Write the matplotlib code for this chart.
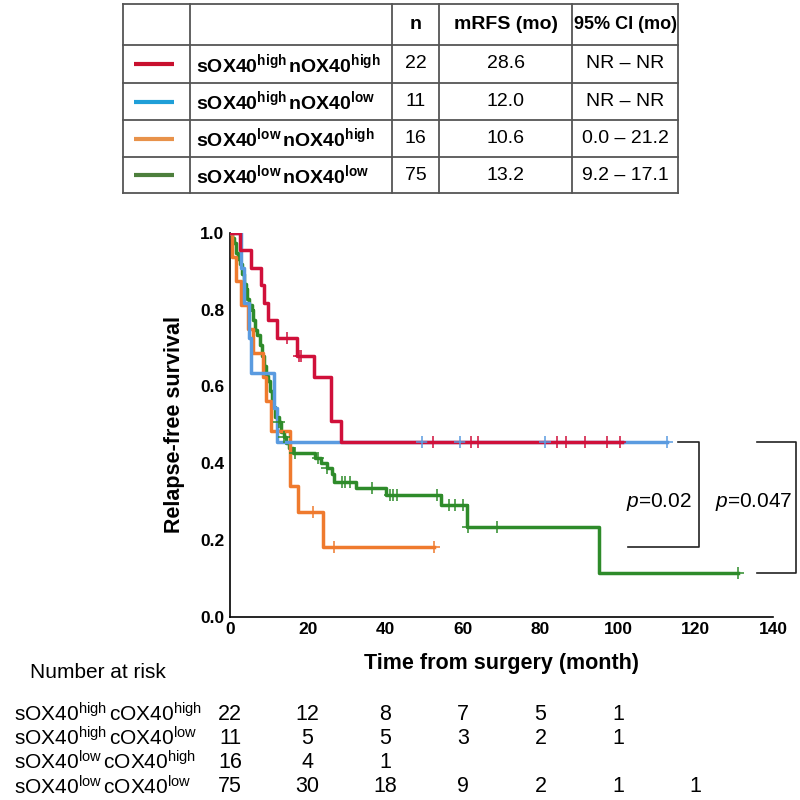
import matplotlib
matplotlib.use("Agg")
import matplotlib.pyplot as plt
from matplotlib.transforms import blended_transform_factory

plt.rcParams["font.family"] = ["Liberation Sans", "DejaVu Sans"]
plt.rcParams["mathtext.fontset"] = "custom"
plt.rcParams["mathtext.rm"] = "Liberation Sans"
plt.rcParams["mathtext.bf"] = "Liberation Sans:bold"
plt.rcParams["mathtext.it"] = "Liberation Sans:italic"

# step curves: event times (month) and survival after each step
red_t = [0, 2.6, 5.4, 7.9, 8.8, 9.9, 12.0, 17.2, 21.7, 26.0, 28.6]
red_s = [1.0, 0.955, 0.909, 0.864, 0.818, 0.773, 0.727, 0.68, 0.625, 0.51, 0.455]
red_end = 101
red_cens = [14.8, 17.8, 18.4, 52.4, 62.0, 64.0, 84.3, 86.5, 91.6, 97.2, 100.5]

blue_t = [0, 2.8, 3.5, 5.0, 5.3, 11.3, 12.0]
blue_s = [1.0, 0.909, 0.818, 0.727, 0.636, 0.545, 0.455]
blue_end = 112.6
blue_cens = [49.6, 59.4, 81.3, 112.6]

orange_t = [0, 0.5, 1.5, 2.8, 4.6, 5.8, 8.4, 9.4, 10.6, 15.5, 17.4, 24.0]
orange_s = [1.0, 0.9375, 0.875, 0.8125, 0.75, 0.6875, 0.625, 0.5625, 0.483, 0.34, 0.274, 0.183]
orange_end = 52.6
orange_cens = [21.3, 26.8, 52.6]

green_t = [0, 0.5, 1.0, 1.5, 2.0, 2.5, 3.0, 3.5, 4.0, 4.5, 5.0, 5.6, 6.0, 6.5, 7.0, 7.7,
           8.2, 8.7, 9.2, 9.7, 10.2, 10.7, 11.2, 11.7, 12.5, 13.2, 13.8, 14.5, 15.2, 16.3,
           22.0, 23.5, 24.9, 26.2, 26.8, 32.4, 40.2, 54.3, 61.2, 95.0]
green_s = [1.0, 0.987, 0.973, 0.947, 0.933, 0.92, 0.893, 0.867, 0.853, 0.827, 0.813, 0.80,
           0.773, 0.747, 0.733, 0.707, 0.68, 0.653, 0.627, 0.613, 0.587, 0.56, 0.547, 0.52,
           0.507, 0.48, 0.467, 0.453, 0.44, 0.427, 0.413, 0.40, 0.387, 0.373, 0.352, 0.335,
           0.318, 0.292, 0.234, 0.114]
green_end = 131
green_cens = [12.5, 13.8, 16.7, 22.8, 24.9, 28.8, 29.6, 30.9, 36.5, 41.2, 42.1, 43.0,
              53.3, 56.5, 58.0, 60.1, 61.3, 68.7, 131]

# summary table
tbl_labels = [r"$\mathbf{sOX40^{high}\,nOX40^{high}}$", r"$\mathbf{sOX40^{high}\,nOX40^{low}}$",
              r"$\mathbf{sOX40^{low}\,nOX40^{high}}$", r"$\mathbf{sOX40^{low}\,nOX40^{low}}$"]
tbl_n = ["22", "11", "16", "75"]
tbl_mrfs = ["28.6", "12.0", "10.6", "13.2"]
tbl_ci = ["NR \u2013 NR", "NR \u2013 NR", "0.0 \u2013 21.2", "9.2 \u2013 17.1"]
tbl_colors = ["#c8102e", "#1f9fd8", "#e8924a", "#4d7f3c"]

# number at risk
risk_times = [0, 20, 40, 60, 80, 100, 120]
risk_labels = [r"$\mathrm{sOX40^{high}\,cOX40^{high}}$", r"$\mathrm{sOX40^{high}\,cOX40^{low}}$",
               r"$\mathrm{sOX40^{low}\,cOX40^{high}}$", r"$\mathrm{sOX40^{low}\,cOX40^{low}}$"]
risk_counts = [[22, 12, 8, 7, 5, 1],
               [11, 5, 5, 3, 2, 1],
               [16, 4, 1],
               [75, 30, 18, 9, 2, 1, 1]]

fig = plt.figure(figsize=(8, 8), dpi=100)
ax = fig.add_axes([0.2875, 0.229, 0.679, 0.48])

curves = [
    (red_t, red_s, red_end, red_cens, "#d0103a"),
    (blue_t, blue_s, blue_end, blue_cens, "#5a9be0"),
    (orange_t, orange_s, orange_end, orange_cens, "#ef7a2e"),
    (green_t, green_s, green_end, green_cens, "#2e8b2a"),
]
for t, s, end, cens, col in [curves[3], curves[2], curves[1], curves[0]]:
    ax.step(t + [end], s + [s[-1]], where="post", color=col, lw=2.5, zorder=3)
    cs = []
    for c in cens:
        k = max(i for i in range(len(t)) if t[i] <= c)
        cs.append(s[k])
    ax.plot(cens, cs, ls="none", marker="+", ms=9, mew=1.1, color=col, zorder=4)

ax.set_xlim(0, 140)
ax.set_ylim(0, 1.0)
ax.set_xticks(range(0, 141, 20))
ax.set_yticks([0, 0.2, 0.4, 0.6, 0.8, 1.0])
ax.set_yticklabels(["0.0", "0.2", "0.4", "0.6", "0.8", "1.0"])
ax.tick_params(length=0, labelsize=12.5, pad=4)
for lab in ax.get_xticklabels() + ax.get_yticklabels():
    lab.set_fontweight("bold")
ax.spines["top"].set_visible(False)
ax.spines["right"].set_visible(False)
ax.spines["left"].set_linewidth(1.2)
ax.spines["bottom"].set_linewidth(1.2)
ax.set_xlabel("Time from surgery (month)", fontsize=15.5, fontweight="bold", labelpad=11)
ax.set_ylabel("Relapse-free survival", fontsize=15.5, fontweight="bold", labelpad=11)

# p-value brackets
bk = dict(color="#222222", lw=1.2, clip_on=False)
ax.plot([115.5, 120.9, 120.9, 102.6], [0.455, 0.455, 0.183, 0.183], **bk)
ax.text(110.6, 0.30, r"$\mathit{p}$=0.02", fontsize=15, ha="center", va="center")
ax.plot([135.8, 146.0, 146.0, 135.8], [0.455, 0.455, 0.114, 0.114], **bk)
ax.text(135.0, 0.30, r"$\mathit{p}$=0.047", fontsize=15, ha="center", va="center")

# summary table on top, drawn in pixel coordinates
ov = fig.add_axes([0, 0, 1, 1], zorder=-1)
ov.set_xlim(0, 800)
ov.set_ylim(800, 0)
ov.axis("off")
cols = [123, 190, 392, 439, 572, 678]
rows = [4, 45, 83, 120, 157, 193]
for x in cols:
    ov.plot([x, x], [rows[0], rows[-1]], color="#555555", lw=1.3)
for y in rows:
    ov.plot([cols[0], cols[-1]], [y, y], color="#555555", lw=1.3)
hy = (rows[0] + rows[1]) / 2
ov.text((cols[2] + cols[3]) / 2, hy, "n", fontsize=14, fontweight="bold", ha="center", va="center")
ov.text((cols[3] + cols[4]) / 2, hy, "mRFS (mo)", fontsize=14, fontweight="bold", ha="center", va="center")
ov.text((cols[4] + cols[5]) / 2, hy, "95% CI (mo)", fontsize=13, fontweight="bold", ha="center", va="center")
for i in range(4):
    yc = (rows[i + 1] + rows[i + 2]) / 2
    ov.plot([134, 174], [yc, yc], color=tbl_colors[i], lw=3, solid_capstyle="butt")
    ov.text(196, yc, tbl_labels[i], fontsize=14, ha="left", va="center")
    ov.text((cols[2] + cols[3]) / 2, yc, tbl_n[i], fontsize=14, ha="center", va="center")
    ov.text((cols[3] + cols[4]) / 2, yc, tbl_mrfs[i], fontsize=14, ha="center", va="center")
    ov.text((cols[4] + cols[5]) / 2, yc, tbl_ci[i], fontsize=14, ha="center", va="center")

# number at risk
fig.text(30 / 800, 1 - 672 / 800, "Number at risk", fontsize=15, ha="left", va="center")
tr = blended_transform_factory(ax.transData, fig.transFigure)
row_y = [714, 738, 762, 787]
for i in range(4):
    fy = 1 - row_y[i] / 800
    fig.text(14 / 800, fy, risk_labels[i], fontsize=15, ha="left", va="center")
    for j, c in enumerate(risk_counts[i]):
        ax.text(risk_times[j], fy, str(c), fontsize=15.5, ha="center", va="center",
                transform=tr, clip_on=False)

fig.savefig("out.png", dpi=100)
